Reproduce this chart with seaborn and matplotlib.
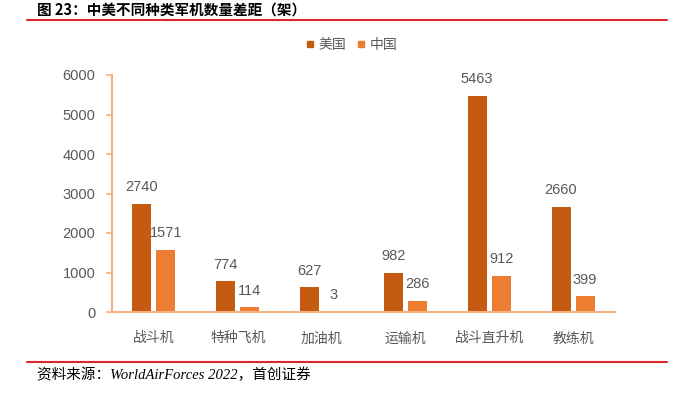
import matplotlib
matplotlib.use("Agg")
import matplotlib.pyplot as plt
from matplotlib.lines import Line2D
import seaborn as sns
import pandas as pd

categories = ["战斗机", "特种飞机", "加油机", "运输机", "战斗直升机", "教练机"]
us_values = [2740, 774, 627, 982, 5463, 2660]
cn_values = [1571, 114, 3, 286, 912, 399]
series_names = ["美国", "中国"]
y_ticks = [0, 1000, 2000, 3000, 4000, 5000, 6000]

df = pd.DataFrame({
    "cat": categories * 2,
    "value": us_values + cn_values,
    "series": [series_names[0]] * len(categories) + [series_names[1]] * len(categories),
})

sns.set_theme(style="white")
plt.rcParams['font.family'] = ['Noto Sans CJK SC', 'DejaVu Sans']

colors = ["#C55A11", "#ED7D31"]
grey = "#595959"
axis_col = "#F4B183"

fig = plt.figure(figsize=(6.9, 3.96), dpi=100)
ax = fig.add_axes([112/690, 1-312/396, (615-112)/690, (312-75)/396])

sns.barplot(data=df, x="cat", y="value", hue="series", palette=colors,
            width=0.575, gap=0.21, ax=ax, legend=False, saturation=1,
            edgecolor="none")

for cont in ax.containers:
    ax.bar_label(cont, labels=[f"{int(v)}" for v in cont.datavalues], padding=7,
                 fontsize=10.5, color=grey, family=['Liberation Sans', 'DejaVu Sans'])

ax.set_ylim(0, 6000)
ax.set_xlim(-0.5, 5.5)
ax.set_yticks(y_ticks)
ax.set_yticklabels([str(t) for t in y_ticks], fontsize=10.5, color=grey,
                   family=['Liberation Sans', 'DejaVu Sans'])
ax.set_xticks(range(len(categories)))
ax.set_xticklabels(categories, fontsize=10, color=grey)
ax.set_xlabel("")
ax.set_ylabel("")
for s in ["top", "right"]:
    ax.spines[s].set_visible(False)
for s in ["left", "bottom"]:
    ax.spines[s].set_color(axis_col)
    ax.spines[s].set_linewidth(1.5)
ax.tick_params(axis="y", which="major", left=True, length=4, width=1.2, color=axis_col, pad=8)
ax.tick_params(axis="x", which="major", bottom=False, pad=8)

handles = [Line2D([0], [0], marker="s", linestyle="none", markersize=5,
                  markerfacecolor=c, markeredgecolor=c) for c in colors]
fig.legend(handles, series_names, loc="center", bbox_to_anchor=(350/690, 1-45/396),
           ncol=2, frameon=False, fontsize=10, labelcolor=grey,
           handletextpad=0.1, columnspacing=0.6, handlelength=1.0)

fig.text(37/690, 1-10/396, "图 23：中美不同种类军机数量差距（架）", fontsize=10.5,
         fontweight="bold", color="#000000", va="center", ha="left")
fig.add_artist(Line2D([27/690, 667/690], [1-20/396, 1-20/396], color="#D9272E", linewidth=1.5))
fig.add_artist(Line2D([27/690, 667/690], [1-362/396, 1-362/396], color="#D9272E", linewidth=1.5))
fig.text(37/690, 1-375/396, "资料来源：WorldAirForces 2022，首创证券", fontsize=10.5,
         style="italic", color="#000000", va="center", ha="left",
         family=['Liberation Serif', 'Noto Sans CJK SC'])

fig.savefig("out.png", dpi=100)
